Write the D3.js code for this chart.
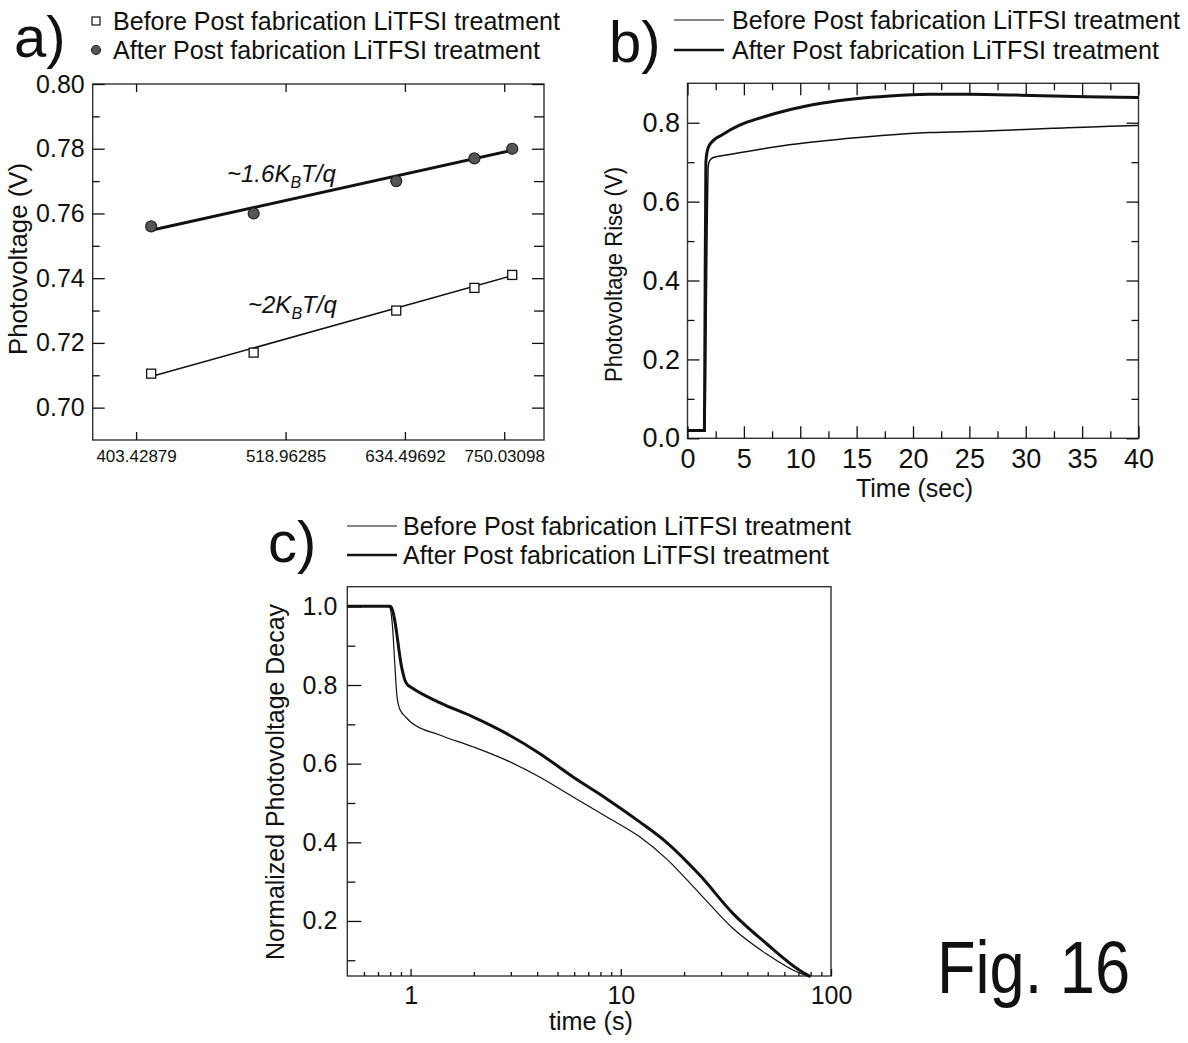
<!DOCTYPE html>
<html>
<head>
<meta charset="utf-8">
<script src="https://cdn.jsdelivr.net/npm/d3@7"></script>
<style>
  body { margin: 0; background: #fff; }
  svg { display: block; font-family: "Liberation Sans", Arial, Helvetica, sans-serif; }
</style>
</head>
<body>
<svg id="fig" width="1188" height="1043"></svg>
<script>
// ---------- a) open-circuit photovoltage vs. light intensity ----------
const aTicksX = [403.42879, 518.96285, 634.49692, 750.03098];
const aTickLabelsX = ["403.42879", "518.96285", "634.49692", "750.03098"];
const aTicksY = [0.70, 0.72, 0.74, 0.76, 0.78, 0.80];
const aMinorY = [0.71, 0.73, 0.75, 0.77, 0.79];
const aIntensity = [413.8, 491.8, 625.3, 713.3, 760.2];
const aBefore = [0.7105, 0.717, 0.730, 0.737, 0.741];
const aAfter = [0.756, 0.760, 0.770, 0.777, 0.780];
const aFitX = [413.8, 760.2];
const aFitBefore = [0.7096, 0.7408];
const aFitAfter = [0.7548, 0.7795];

// ---------- b) photovoltage rise ----------
const bTicksX = [0, 5, 10, 15, 20, 25, 30, 35, 40];
const bMinorX = [2.5, 7.5, 12.5, 17.5, 22.5, 27.5, 32.5, 37.5];
const bTicksY = [0.0, 0.2, 0.4, 0.6, 0.8];
const bMinorY = [0.1, 0.3, 0.5, 0.7];
const bTimeBefore = [0, 1.55, 1.62, 1.75, 1.84, 1.95, 2.28, 3.16, 6.1, 9.04, 12, 14.9, 17.9, 21.4, 26.5, 32.4, 38.3, 40];
const bBefore     = [0.02, 0.02, 0.2, 0.55, 0.69, 0.703, 0.712, 0.717, 0.731, 0.744, 0.754, 0.762, 0.769, 0.775, 0.779, 0.786, 0.792, 0.793];
const bTimeAfter  = [0, 1.5, 1.55, 1.63, 1.75, 1.98, 3.16, 4.63, 6.1, 9.04, 12, 14.9, 17.9, 21.4, 25, 29.5, 35.4, 40];
const bAfter      = [0.02, 0.02, 0.3, 0.70, 0.728, 0.745, 0.771, 0.794, 0.809, 0.833, 0.850, 0.861, 0.868, 0.872, 0.872, 0.870, 0.866, 0.864];

// ---------- c) normalized photovoltage decay ----------
const cTicksX = [1, 10, 100];
const cMinorX = [0.6, 0.7, 0.8, 0.9, 2, 3, 4, 5, 6, 7, 8, 9, 20, 30, 40, 50, 60, 70, 80, 90];
const cTicksY = [0.2, 0.4, 0.6, 0.8, 1.0];
const cMinorY = [0.1, 0.3, 0.5, 0.7, 0.9];
const cTimeBefore = [0.5, 0.78, 0.80, 0.82, 0.84, 0.86, 0.88, 0.90, 0.95, 1.0, 1.375, 1.98, 2.85, 4.11, 5.93, 8.55, 12.3, 16.5, 23.8, 34.3, 49.4, 71.1, 79];
const cBefore     = [1.0, 1.0, 0.995, 0.95, 0.86, 0.775, 0.745, 0.733, 0.718, 0.706, 0.673, 0.643, 0.609, 0.566, 0.515, 0.465, 0.414, 0.358, 0.269, 0.180, 0.116, 0.067, 0.058];
const cTimeAfter  = [0.5, 0.80, 0.82, 0.84, 0.86, 0.88, 0.90, 0.92, 0.94, 0.97, 1.0, 1.375, 1.98, 2.85, 4.11, 5.93, 8.55, 12.3, 16.5, 23.8, 34.3, 49.4, 71.1, 80];
const cAfter      = [1.0, 1.0, 0.99, 0.965, 0.93, 0.89, 0.855, 0.83, 0.812, 0.80, 0.795, 0.755, 0.719, 0.677, 0.626, 0.566, 0.511, 0.452, 0.400, 0.316, 0.218, 0.142, 0.074, 0.058];

const legendBefore = "Before Post fabrication LiTFSI treatment";
const legendAfter = "After Post fabrication LiTFSI treatment";

const INK = "#111";
const svg = d3.select("#fig");

function zip(xs, ys) { return xs.map((x, i) => [x, ys[i]]); }

function frame(box) {
  svg.append("rect")
    .attr("x", box.l).attr("y", box.t)
    .attr("width", box.r - box.l).attr("height", box.b - box.t)
    .attr("fill", "none").attr("stroke", "#333").attr("stroke-width", 1.4);
}

// inward-pointing ticks; labels only where a format is given
function axis(gen, pos, values, size, pad, fmt, fontSize) {
  const g = svg.append("g")
    .attr("transform", pos)
    .style("color", INK)
    .call(gen.tickValues(values).tickSize(-size).tickPadding(pad)
      .tickFormat(fmt || (() => "")));
  g.select(".domain").remove();
  g.selectAll(".tick line").attr("stroke-width", 1.3);
  g.selectAll("text").attr("font-size", fontSize || 10).attr("fill", INK)
    .attr("font-family", "'Liberation Sans', Arial, sans-serif");
  return g;
}

function vTitle(x, y, text, size, len) {
  svg.append("text")
    .attr("transform", `translate(${x},${y}) rotate(-90)`)
    .attr("text-anchor", "middle").attr("font-size", size).attr("fill", INK)
    .attr("textLength", len).attr("lengthAdjust", "spacingAndGlyphs")
    .text(text);
}

function label(x, y, text, size, len, anchor) {
  const t = svg.append("text")
    .attr("x", x).attr("y", y).attr("font-size", size).attr("fill", INK)
    .attr("text-anchor", anchor || "start").text(text);
  if (len) t.attr("textLength", len).attr("lengthAdjust", "spacingAndGlyphs");
  return t;
}

function lineLegend(x1, x2, y, w, tx, len, text) {
  svg.append("line").attr("x1", x1).attr("x2", x2).attr("y1", y).attr("y2", y)
    .attr("stroke", INK).attr("stroke-width", w);
  label(tx, y + 9, text, 25, len);
}

// ================= Panel a =================
const A = { l: 92.7, r: 544, t: 84, b: 440 };
const xA = d3.scaleLog().domain([375, 802]).range([A.l, A.r]);
const yA = d3.scaleLinear().domain([0.69, 0.80]).range([A.b, A.t]);

frame(A);
axis(d3.axisBottom(xA), `translate(0,${A.b})`, aTicksX, 8, 10, (d, i) => aTickLabelsX[i], 17);
axis(d3.axisTop(xA), `translate(0,${A.t})`, aTicksX, 8, 0);
axis(d3.axisLeft(yA), `translate(${A.l},0)`, aTicksY, 12, 8, d3.format(".2f"), 25);
axis(d3.axisLeft(yA), `translate(${A.l},0)`, aMinorY, 7, 0);
axis(d3.axisRight(yA), `translate(${A.r},0)`, aTicksY, 12, 0);
axis(d3.axisRight(yA), `translate(${A.r},0)`, aMinorY, 10, 0);

const lineA = d3.line().x(d => xA(d[0])).y(d => yA(d[1]));
svg.append("path").datum(zip(aFitX, aFitBefore)).attr("d", lineA)
  .attr("fill", "none").attr("stroke", INK).attr("stroke-width", 1.6);
svg.append("path").datum(zip(aFitX, aFitAfter)).attr("d", lineA)
  .attr("fill", "none").attr("stroke", INK).attr("stroke-width", 3);

svg.append("g").selectAll("rect").data(zip(aIntensity, aBefore)).join("rect")
  .attr("x", d => xA(d[0]) - 4.5).attr("y", d => yA(d[1]) - 4.5)
  .attr("width", 9).attr("height", 9)
  .attr("fill", "#fff").attr("stroke", INK).attr("stroke-width", 1.3);
svg.append("g").selectAll("circle").data(zip(aIntensity, aAfter)).join("circle")
  .attr("cx", d => xA(d[0])).attr("cy", d => yA(d[1])).attr("r", 5.5)
  .attr("fill", "#555").attr("stroke", "#222").attr("stroke-width", 1.2);

vTitle(27, 259, "Photovoltage (V)", 25, 192);

const ann1 = svg.append("text").attr("x", 227).attr("y", 182)
  .attr("font-size", 24).attr("font-style", "italic").attr("fill", INK);
ann1.append("tspan").text("~1.6K");
ann1.append("tspan").attr("font-size", 16).attr("dy", 6).text("B");
ann1.append("tspan").attr("dy", -6).text("T/q");
const ann2 = svg.append("text").attr("x", 248).attr("y", 313)
  .attr("font-size", 24).attr("font-style", "italic").attr("fill", INK);
ann2.append("tspan").text("~2K");
ann2.append("tspan").attr("font-size", 16).attr("dy", 6).text("B");
ann2.append("tspan").attr("dy", -6).text("T/q");

label(14, 57, "a)", 58);
svg.append("rect").attr("x", 92).attr("y", 17).attr("width", 8).attr("height", 8)
  .attr("fill", "#fff").attr("stroke", INK).attr("stroke-width", 1.2);
label(113, 30, legendBefore, 25, 447);
svg.append("circle").attr("cx", 96).attr("cy", 50).attr("r", 4.5)
  .attr("fill", "#555").attr("stroke", "#222").attr("stroke-width", 1.1);
label(113, 59, legendAfter, 25, 427);

// ================= Panel b =================
const B = { l: 687.5, r: 1138.5, t: 83.3, b: 438.3 };
const xB = d3.scaleLinear().domain([0, 40]).range([B.l, B.r]);
const yB = d3.scaleLinear().domain([0, 0.9]).range([B.b, B.t]);

frame(B);
axis(d3.axisBottom(xB), `translate(0,${B.b})`, bTicksX, 12, 10.5, d3.format("d"), 27);
axis(d3.axisBottom(xB), `translate(0,${B.b})`, bMinorX, 7, 0);
axis(d3.axisTop(xB), `translate(0,${B.t})`, bTicksX, 12, 0);
axis(d3.axisTop(xB), `translate(0,${B.t})`, bMinorX, 7, 0);
axis(d3.axisLeft(yB), `translate(${B.l},0)`, bTicksY, 12, 7.5, d3.format(".1f"), 27);
axis(d3.axisLeft(yB), `translate(${B.l},0)`, bMinorY, 7, 0);
axis(d3.axisRight(yB), `translate(${B.r},0)`, bTicksY, 12, 0);
axis(d3.axisRight(yB), `translate(${B.r},0)`, bMinorY, 7, 0);

const lineB = d3.line().x(d => xB(d[0])).y(d => yB(d[1])).curve(d3.curveMonotoneX);
svg.append("path").datum(zip(bTimeBefore, bBefore)).attr("d", lineB)
  .attr("fill", "none").attr("stroke", INK).attr("stroke-width", 1.5);
svg.append("path").datum(zip(bTimeAfter, bAfter)).attr("d", lineB)
  .attr("fill", "none").attr("stroke", INK).attr("stroke-width", 3);

vTitle(622, 274.5, "Photovoltage Rise (V)", 23, 215);
label(914.5, 497, "Time (sec)", 25, 117, "middle");

label(609, 62, "b)", 58);
lineLegend(674, 724, 20, 1.2, 732, 448, legendBefore);
lineLegend(674, 724, 50, 2.6, 732, 427, legendAfter);

// ================= Panel c =================
const C = { l: 347.3, r: 831, t: 586.7, b: 976 };
const xC = d3.scaleLog().domain([0.5, 100]).range([C.l, C.r]);
const yC = d3.scaleLinear().domain([0.06, 1.05]).range([C.b, C.t]);

frame(C);
axis(d3.axisBottom(xC), `translate(0,${C.b})`, cTicksX, 7, 10, d3.format("d"), 25);
axis(d3.axisBottom(xC), `translate(0,${C.b})`, cMinorX, 4, 0);
axis(d3.axisLeft(yC), `translate(${C.l},0)`, cTicksY, 14, 10, d3.format(".1f"), 25);
axis(d3.axisLeft(yC), `translate(${C.l},0)`, cMinorY, 8, 0);

const lineC = d3.line().x(d => xC(d[0])).y(d => yC(d[1])).curve(d3.curveMonotoneX);
svg.append("path").datum(zip(cTimeBefore, cBefore)).attr("d", lineC)
  .attr("fill", "none").attr("stroke", INK).attr("stroke-width", 1.2);
svg.append("path").datum(zip(cTimeAfter, cAfter)).attr("d", lineC)
  .attr("fill", "none").attr("stroke", INK).attr("stroke-width", 3);

vTitle(284, 782, "Normalized Photovoltage Decay", 25, 356);
label(591, 1030, "time (s)", 25, 84, "middle");

label(268, 562, "c)", 58);
lineLegend(347, 397, 526, 1.2, 403, 448, legendBefore);
lineLegend(347, 397, 555, 2.6, 403, 426, legendAfter);

label(937, 993, "Fig. 16", 74, 193);
</script>
</body>
</html>
